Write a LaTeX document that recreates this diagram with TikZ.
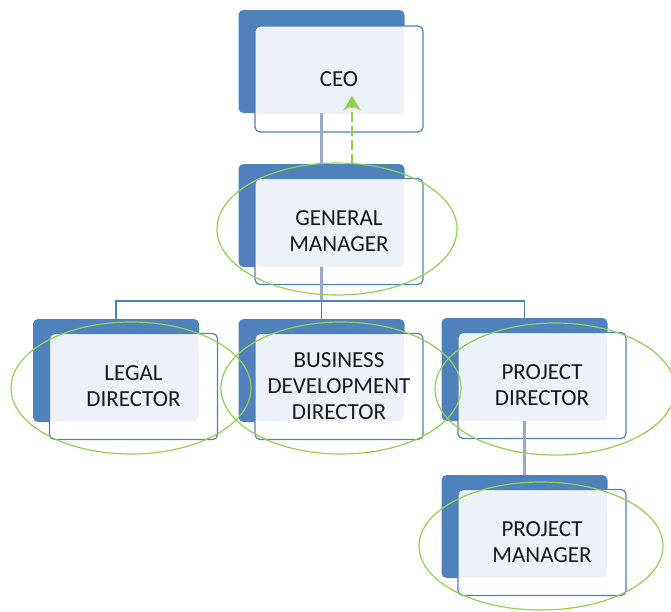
\documentclass[tikz,border=0pt]{standalone}
\usepackage{fontspec}
\setmainfont{Carlito}
\usetikzlibrary{shapes.geometric,arrows.meta}
\definecolor{chartblue}{HTML}{4F81BD}
\definecolor{paleblue}{HTML}{EDF1F8}
\definecolor{linkgray}{HTML}{98AACA}
\definecolor{ringgreen}{HTML}{92D050}

\begin{document}
\begin{tikzpicture}[x=1pt, y=-1pt,
  back/.style={fill=chartblue, rounded corners=5pt, minimum width=166pt, minimum height=103pt, inner sep=0pt},
  front/.style={draw=chartblue, line width=1.2pt, fill=white, rounded corners=5pt, minimum width=168pt, minimum height=106pt, inner sep=0pt,
    align=center, text=black!90, font=\fontsize{23}{26}\selectfont,
    path picture={\fill[paleblue, rounded corners=5pt] (path picture bounding box.north west) rectangle ++(149pt,-88pt);}},
  ring/.style={draw=ringgreen, line width=1.2pt, ellipse, minimum width=240pt, minimum height=132pt, inner sep=0pt},
  link/.style={draw=linkgray, line width=2.5pt},
  bus/.style={draw=chartblue, line width=1.2pt}]
  \useasboundingbox (0,0) rectangle (671,611);

  % boxes
  \node[back] (ceob) at (321.5,61.5) {};
  \node[front] (ceof) at (339,79) {CEO};
  \node[back] (gmb) at (321.5,215.5) {};
  \node[front] (gmf) at (339,231.5) {GENERAL\\MANAGER};
  \node[back] (legb) at (116,370.5) {};
  \node[front] (legf) at (133.5,386.5) {LEGAL\\DIRECTOR};
  \node[back] (busb) at (321.5,370.5) {};
  \node[front] (busf) at (339,386.5) {BUSINESS\\DEVELOPMENT\\DIRECTOR};
  \node[back] (pdb) at (524.5,369.5) {};
  \node[front] (pdf) at (542,385.5) {PROJECT\\DIRECTOR};
  \node[back] (pmb) at (524.5,526.5) {};
  \node[front] (pmf) at (542,542.5) {PROJECT\\MANAGER};

  % lines
  \coordinate (bus) at (0,301);
  \draw[link] (ceob.south) -- (gmb.north);
  \draw[link] (gmb.south) -- (gmb.south |- bus);
  \draw[bus] (legb.north) -- (legb.north |- bus) -- (pdb.north |- bus) -- (pdb.north);
  \draw[bus] (busb.north) -- (busb.north |- bus);
  \draw[link] (pdb.south) -- (pmb.north);

  \coordinate (tip) at (352,96);
  \draw[ringgreen, line width=2.6pt, dash pattern=on 10pt off 4pt, -{Stealth[length=14pt, width=17pt, inset=4pt]}]
    (gmb.north -| tip) -- (tip);

  % rings
  \node[ring] (gmring) at (337,229) {};
  \node[ring] (legring) at (131,388) {};
  \node[ring] (busring) at (341,388) {};
  \node[ring] (pdring) at (555,389) {};
  \node[ring, minimum width=244pt, minimum height=128pt] (pmring) at (541,546) {};
\end{tikzpicture}
\end{document}
